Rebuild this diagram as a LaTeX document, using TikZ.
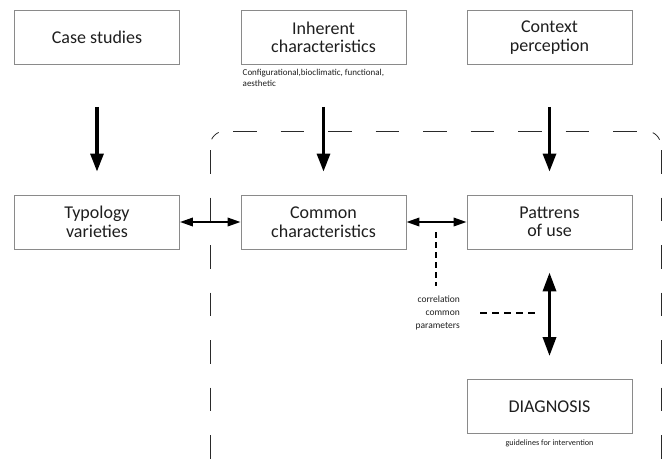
\documentclass[tikz,border=0pt]{standalone}
\usepackage{fontspec}
\setmainfont{Carlito}
\usetikzlibrary{arrows.meta}
\definecolor{boxgray}{HTML}{8A8A8A}
\definecolor{txt}{HTML}{1E1E1E}
\definecolor{framec}{HTML}{2A2A2A}
\newcommand\mainfs{\fontsize{18}{18.5}\selectfont}
\newcommand\smallfs{\fontsize{9}{11}\selectfont}
\newcommand\notefs{\fontsize{8.2}{13}\selectfont}
\newcommand\corrfs{\fontsize{9.5}{12.8}\selectfont}
\tikzset{
  box/.style={draw=boxgray, line width=0.9pt, minimum width=165pt, minimum height=54pt,
    inner sep=0pt, align=center, font=\mainfs, text=txt},
  bigarrow/.style={line width=3.2pt, -{Triangle[width=13pt,length=18pt]}},
  bigdouble/.style={line width=3.4pt, {Triangle[width=13pt,length=19pt]}-{Triangle[width=13pt,length=19pt]}},
  hdouble/.style={line width=2pt, {Triangle[width=8.5pt,length=13pt]}-{Triangle[width=8.5pt,length=13pt]}},
  smalldash/.style={line width=2pt, dash pattern=on 6pt off 4pt},
  frameline/.style={draw=framec, line width=0.8pt},
  hedge/.style={frameline, dash pattern=on 23.5pt off 24pt, dash phase=39.5pt},
  vedge/.style={frameline, dash pattern=on 23.5pt off 24pt, dash phase=43.5pt},
  fcorner/.style={frameline, dash pattern=on 10pt off 14pt, dash phase=17pt},
  note/.style={font=\notefs, text=txt, inner sep=0pt}
}
\begin{document}
\begin{tikzpicture}[x=1pt,y=-1pt]
\useasboundingbox (0,0) rectangle (668,466);
\begin{scope}
\clip (0,0) rectangle (668,466);
% dashed rounded frame
\draw[hedge] (225,131) -- (646,131);
\draw[vedge] (210,146) -- (210,462);
\draw[vedge] (661,146) -- (661,462);
\draw[hedge] (225,477) -- (646,477);
\draw[fcorner] (210,146) arc[start angle=180, end angle=270, radius=15];
\draw[fcorner] (646,131) arc[start angle=270, end angle=360, radius=15];
\draw[fcorner] (661,462) arc[start angle=0, end angle=90, radius=15];
\draw[fcorner] (225,477) arc[start angle=90, end angle=180, radius=15];
\end{scope}

\node[box] (case) at (97,37.5) {Case studies};
\node[box] (inh) at (323.5,37.5) {Inherent\\characteristics};
\node[box] (ctx) at (549.5,37.5) {Context\\perception};

\node[anchor=north west, font=\smallfs, text=txt, inner sep=0pt, align=left] (cap) at (242.5,69) {Configurational,bioclimatic, functional,\\aesthetic};

\node[box] (typ) at (97,222) {Typology\\varieties};
\node[box] (com) at (323.5,222) {Common\\characteristics};
\node[box] (pat) at (549.5,222) {Pattrens\\of use};
\node[box] (diag) at (549.5,406.5) {DIAGNOSIS};
\node[note, anchor=north] (guide) at ([yshift=-6pt]diag.south) {guidelines for intervention};

\draw[bigarrow] ([yshift=-42pt]case.south) -- ([yshift=23pt]typ.north);
\draw[bigarrow] ([yshift=-42pt]inh.south) -- ([yshift=23pt]com.north);
\draw[bigarrow] ([yshift=-42pt]ctx.south) -- ([yshift=23pt]pat.north);

\draw[hdouble] (typ.east) -- (com.west);
\draw[hdouble] (com.east) -- (pat.west);
\draw[bigdouble] ([yshift=-23pt]pat.south) -- ([yshift=23pt]diag.north);

\coordinate (v1) at (436,232);
\coordinate (v2) at (436,286);
\draw[smalldash] (v1) -- (v2);

\node[font=\corrfs, text=txt, inner sep=0pt, anchor=north east, align=right] (corr) at (460,296) {correlation\\common\\parameters};
\coordinate (h1) at (480,313);
\coordinate (h2) at (536,313);
\draw[line width=2pt, dash pattern=on 7pt off 5pt] (h1) -- (h2);
\end{tikzpicture}
\end{document}
